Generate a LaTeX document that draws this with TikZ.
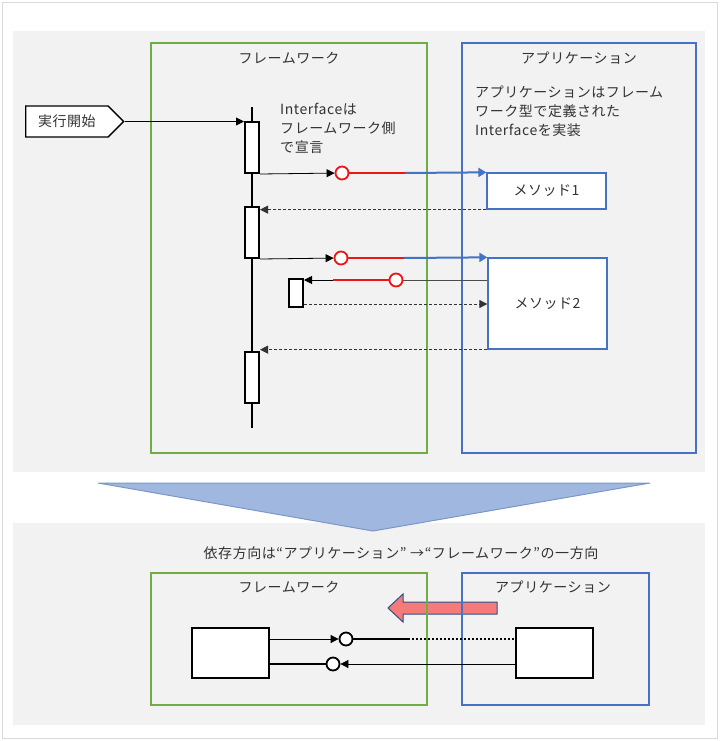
\documentclass[tikz,border=0pt]{standalone}
\usepackage{fontspec}
\setmainfont{Noto Sans CJK JP}[LetterSpace=4]
\usetikzlibrary{arrows.meta,shapes.symbols}
\definecolor{fwgreen}{RGB}{112,173,71}
\definecolor{appblue}{RGB}{68,114,196}
\definecolor{panel}{RGB}{242,242,242}
\definecolor{ifred}{RGB}{240,20,20}
\definecolor{flowblue}{RGB}{160,184,224}
\definecolor{flowedge}{RGB}{125,150,200}
\definecolor{pinkarrow}{RGB}{245,122,122}

\begin{document}
\begin{tikzpicture}[x=1pt,y=-1pt,font=\fontsize{14}{19}\selectfont,text=black!80]
            \tikzstyle{frame}=[draw,line width=1.3pt,inner sep=0pt]
            \tikzstyle{act}=[draw=black,line width=2pt,fill=white,minimum width=14pt,inner sep=0pt]
            \tikzstyle{method}=[draw=appblue,line width=1.3pt,fill=white,minimum width=119pt,inner sep=0pt]
            \tikzstyle{box}=[draw=black,line width=2pt,fill=white,minimum width=77pt,minimum height=50pt,inner sep=0pt]
            \tikzstyle{iface}=[circle,draw=ifred,line width=1.8pt,fill=white,minimum size=13pt,inner sep=0pt]
            \tikzstyle{port}=[circle,draw=black,line width=1.8pt,fill=white,minimum size=13pt,inner sep=0pt]
            \tikzstyle{call}=[black,line width=0.8pt,-{Triangle[length=8pt,width=8pt]}]
            \tikzstyle{bluecall}=[appblue,line width=2pt,-{Triangle[length=8pt,width=9pt]}]
            \tikzstyle{redline}=[ifred,line width=2.2pt]
            \tikzstyle{ret}=[black!80,line width=0.8pt,dash pattern=on 3pt off 2pt,-{Triangle[length=8pt,width=8pt]}]
            \useasboundingbox (0,0) rectangle (720,741);
            \fill[white] (0,0) rectangle (720,741);
            \draw[black!15,line width=1.5pt] (2.5,2.5) rectangle (717.5,738.5);
            \fill[panel] (13,31) rectangle (705,472);
            \fill[panel] (13,523) rectangle (705,725);
            \draw[flowedge,fill=flowblue,line width=1pt] (98,483) -- (650,483) -- (373,531) -- cycle;
            \node[frame,draw=fwgreen,minimum width=276pt,minimum height=410pt] (fw) at (289,248) {};
            \node[frame,draw=appblue,minimum width=234pt,minimum height=410pt] (app) at (579,248) {};
            \node (fwt) at (289,58) {フレームワーク};
            \node (appt) at (579,58) {アプリケーション};
            \node[anchor=north west,align=left,inner sep=0pt] (appnote) at (475,86) {アプリケーションはフレーム\\ワーク型で定義された\\Interfaceを実装};
            \node[anchor=north west,align=left,inner sep=0pt] (fwnote) at (280,103) {Interfaceは\\フレームワーク側\\で宣言};
            \node[signal,signal to=east,draw=black,line width=1.3pt,fill=white,minimum width=98pt,minimum height=31pt,inner sep=0pt,anchor=west] (start) at (25,121.5) {実行開始};
            \coordinate (lt) at (252,107);
            \coordinate (lb) at (252,428);
            \draw[line width=2pt] (lt) -- (lb);
            \node[act,minimum height=51pt] (a1) at (252,147.5) {};
            \node[act,minimum height=51pt] (a2) at (252,232.5) {};
            \node[act,minimum height=51pt] (a3) at (252,377.5) {};
            \node[act,minimum height=28pt] (a4) at (296,293) {};
            \node[method,minimum height=36pt] (m1) at (546.5,191) {メソッド1};
            \node[method,minimum height=91pt] (m2) at (547.5,303.5) {メソッド2};
            \draw[call] (start.east) -- (start.east -| a1.west);
            \node[iface] (i1) at (342,173) {};
            \coordinate (r1) at (405,173);
            \draw[call] (a1.south east) -- (i1);
            \draw[redline] (i1) -- (r1);
            \draw[bluecall] (r1) -- (m1.north west);
            \draw[ret] (m1.south west) -- (m1.south west -| a2.east);
            \node[iface] (i2) at (341,258) {};
            \coordinate (r2) at (404,258);
            \draw[call] (a2.south east) -- (i2);
            \draw[redline] (i2) -- (r2);
            \draw[bluecall] (r2) -- (m2.north west);
            \node[iface] (i3) at (396,280) {};
            \coordinate (r3) at (333,280);
            \draw[black!70,line width=1pt] (m2.west |- i3) -- (i3);
            \draw[redline] (i3) -- (r3);
            \draw[call] (r3) -- (r3 -| a4.east);
            \draw[ret] (a4.east |- 0,304) -- (m2.west |- 0,304);
            \draw[ret] (m2.south west) -- (m2.south west -| a3.east);
            \node (dep) at (401,553) {依存方向は“アプリケーション” →“フレームワーク”の一方向};
            \draw[draw=appblue!70!black,fill=pinkarrow,line width=1pt] (497,602) -- (403,602) -- (403,594) -- (388,608) -- (403,622) -- (403,614) -- (497,614) -- cycle;
            \node[frame,draw=fwgreen,minimum width=276pt,minimum height=132pt] (fw2) at (289,639) {};
            \node[frame,draw=appblue,minimum width=187pt,minimum height=132pt] (app2) at (555.5,639) {};
            \node (fwt2) at (289,587) {フレームワーク};
            \node (appt2) at (553,587) {アプリケーション};
            \node[box] (lbx) at (230,653) {};
            \node[box] (rbx) at (554.5,653) {};
            \node[port] (p1) at (346,639) {};
            \node[port] (p2) at (333,664) {};
            \coordinate (d1) at (408,639);
            \draw[call] (lbx.east |- p1) -- (p1);
            \draw[line width=2pt] (p1) -- (d1);
            \draw[line width=2pt,dotted] (d1) -- (rbx.west |- p1);
            \draw[line width=2pt] (lbx.east |- p2) -- (p2);
            \draw[call] (rbx.west |- p2) -- (p2);
        \end{tikzpicture}
\end{document}
